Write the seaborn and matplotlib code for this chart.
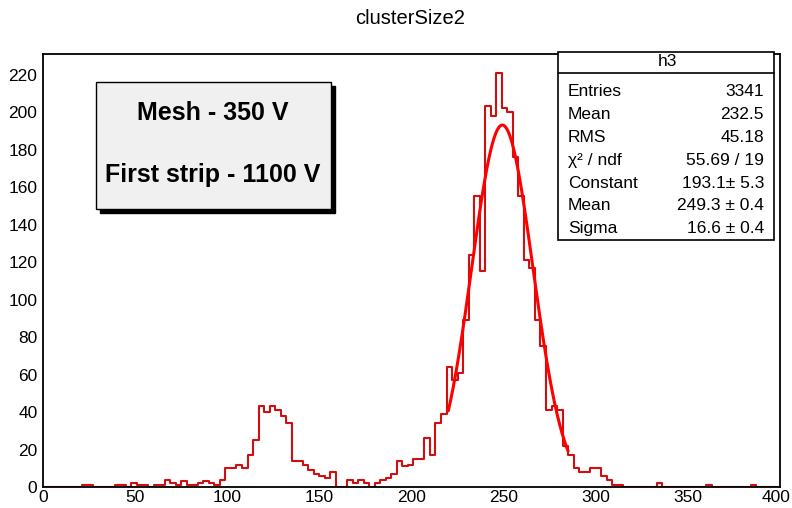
import numpy as np
import pandas as pd
import matplotlib
matplotlib.use("Agg")
import matplotlib.pyplot as plt
import seaborn as sns
from matplotlib.patches import Rectangle
from matplotlib.ticker import MultipleLocator

# histogram h3: bins of width 3 from 0 to 399
BIN_WIDTH = 3
counts_low = [0, 0, 0, 0, 0, 0, 0, 1, 1, 0, 0, 0, 0, 1, 1, 0, 2,
              1, 1, 0, 1, 1, 4, 2, 1, 3, 1, 1, 2, 3, 2, 1, 4]          # 0 - 99
counts_bump = [10, 10, 12, 10, 17, 25, 43, 40, 43, 41, 38, 34]        # 99 - 135
counts_valley = [14, 14, 12, 9, 7, 6, 5, 8, 0, 0, 4, 2, 4, 2, 0, 2,
                 4, 5, 7, 14, 11, 12, 15, 15, 26, 17, 34, 39]        # 135 - 219
counts_peak = [64, 57, 61, 89, 124, 155, 115, 203, 198, 221, 202, 200,
               176, 155, 121, 117, 89, 75, 41, 43, 41, 22, 17, 10, 8,
               8, 10, 10, 6, 4, 1, 1]                                 # 219 - 315
counts_tail = [0, 0, 0, 0, 0, 0, 2, 0, 0, 0, 0, 0, 0, 0, 0, 1, 0, 0,
               0, 0, 0, 0, 0, 1, 0, 0, 0, 0]                          # 315 - 399

# gaussian fit shown in the stats box
fit_const, fit_mean, fit_sigma = 193.1, 249.3, 16.6
fit_lo, fit_hi = 220, 285

x_ticks = [0, 50, 100, 150, 200, 250, 300, 350, 400]
stat_labels = ["Entries", "Mean", "RMS", "χ² / ndf", "Constant", "Mean", "Sigma"]
stat_values = ["3341", "232.5", "45.18", "55.69 / 19", "193.1± 5.3", "249.3 ± 0.4", "16.6 ± 0.4"]

W, H = 792, 508


def fx(x):
    return x / W


def fy(y):
    return 1 - y / H


def main():
    sns.set_style("white")
    plt.rcParams['font.family'] = ['Liberation Sans', 'DejaVu Sans']
    plt.rcParams['text.color'] = 'black'

    counts = counts_low + counts_bump + counts_valley + counts_peak + counts_tail
    n_bins = len(counts)
    centers = np.arange(n_bins) * BIN_WIDTH + BIN_WIDTH / 2
    hist_df = pd.DataFrame({"center": centers, "count": counts})

    fig = plt.figure(figsize=(7.92, 5.08), dpi=100)
    ax = fig.add_axes([fx(43), fy(487), (780 - 43) / W, (487 - 54) / H])

    sns.histplot(data=hist_df, x="center", weights="count", binwidth=BIN_WIDTH,
                 binrange=(0, n_bins * BIN_WIDTH), element="step",
                 fill=False, color="#d01010", linewidth=1.5, ax=ax)

    xf = np.linspace(fit_lo, fit_hi, 300)
    yf = fit_const * np.exp(-0.5 * ((xf - fit_mean) / fit_sigma) ** 2)
    sns.lineplot(x=xf, y=yf, color="#ff0000", linewidth=2.2, estimator=None, ax=ax)

    ax.set_xlim(0, 400)
    ax.set_ylim(0, 231)
    ax.set_xlabel("")
    ax.set_ylabel("")
    ax.set_xticks(x_ticks)
    # last label sits at the figure edge, drawn separately below
    ax.set_xticklabels([str(t) for t in x_ticks[:-1]] + [""])
    ax.xaxis.set_minor_locator(MultipleLocator(10))
    ax.yaxis.set_major_locator(MultipleLocator(20))
    ax.yaxis.set_minor_locator(MultipleLocator(4))
    ax.tick_params(axis="both", which="both", direction="in", colors="black",
                   labelcolor="black", labelsize=12.5, top=False, right=False, width=1)
    ax.tick_params(axis="x", which="major", length=9.4, pad=2)
    ax.tick_params(axis="x", which="minor", length=4.7)
    ax.tick_params(axis="y", which="major", length=15.8, pad=4)
    ax.tick_params(axis="y", which="minor", length=7.9)
    for sp in ax.spines.values():
        sp.set_color("black")
        sp.set_linewidth(1.3)
    fig.text(fx(791), fy(497), str(x_ticks[-1]), ha="right", va="center", fontsize=12.5)

    fig.text(fx(410), fy(18), "clusterSize2", ha="center", va="center", fontsize=14.5)

    # text box with shadow
    fig.add_artist(Rectangle((fx(100), fy(213)), (331 - 96) / W, (209 - 82) / H,
                             transform=fig.transFigure, facecolor="black", edgecolor="black"))
    fig.add_artist(Rectangle((fx(96), fy(209)), (331 - 96) / W, (209 - 82) / H,
                             transform=fig.transFigure, facecolor="#f0f0f0",
                             edgecolor="black", linewidth=1))
    fig.text(fx(213), fy(113), "Mesh - 350 V", ha="center", va="center",
             fontsize=18, fontweight="bold")
    fig.text(fx(213), fy(175), "First strip - 1100 V", ha="center", va="center",
             fontsize=18, fontweight="bold")

    # stats box
    fig.add_artist(Rectangle((fx(558), fy(240)), (774 - 558) / W, (240 - 52) / H,
                             transform=fig.transFigure, facecolor="white",
                             edgecolor="black", linewidth=1.2))
    fig.add_artist(plt.Line2D([fx(558), fx(774)], [fy(73), fy(73)],
                              transform=fig.transFigure, color="black", linewidth=1.2))
    fig.text(fx(667), fy(62), "h3", ha="center", va="center", fontsize=12.5)
    for i, (lab, val) in enumerate(zip(stat_labels, stat_values)):
        y = 92 + i * 22.8
        fig.text(fx(568), fy(y), lab, ha="left", va="center", fontsize=12.5)
        fig.text(fx(764), fy(y), val, ha="right", va="center", fontsize=12.5)

    fig.savefig("out.png", dpi=100)


if __name__ == "__main__":
    main()
